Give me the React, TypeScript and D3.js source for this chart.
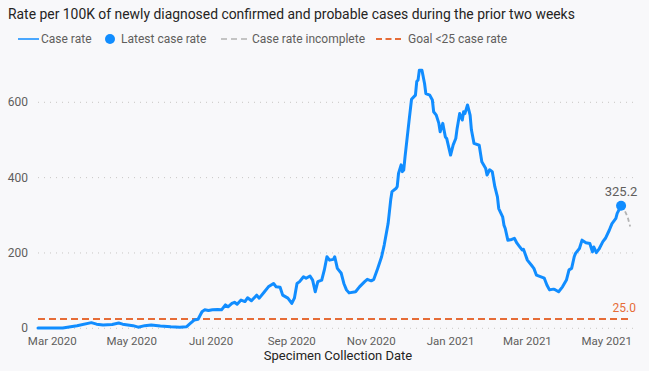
import React, { useEffect } from 'react';
import * as d3 from 'd3';

// daily case rate
const dates = [
  '2020-02-19', '2020-03-09', '2020-03-20', '2020-03-31', '2020-04-04', '2020-04-09', '2020-04-16', '2020-04-21',
  '2020-04-24', '2020-05-02', '2020-05-06', '2020-05-11', '2020-05-16', '2020-05-23', '2020-05-31', '2020-06-07',
  '2020-06-12', '2020-06-15', '2020-06-18', '2020-06-21', '2020-06-24', '2020-06-26', '2020-06-29', '2020-07-02',
  '2020-07-06', '2020-07-09', '2020-07-12', '2020-07-14', '2020-07-17', '2020-07-19', '2020-07-21', '2020-07-24',
  '2020-07-27', '2020-07-29', '2020-08-01', '2020-08-05', '2020-08-07', '2020-08-11', '2020-08-14', '2020-08-18',
  '2020-08-20', '2020-08-23', '2020-08-25', '2020-08-29', '2020-09-01', '2020-09-03', '2020-09-05', '2020-09-07',
  '2020-09-10', '2020-09-12', '2020-09-15', '2020-09-17', '2020-09-19', '2020-09-21', '2020-09-24', '2020-09-26',
  '2020-09-28', '2020-09-30', '2020-10-03', '2020-10-04', '2020-10-06', '2020-10-09', '2020-10-11', '2020-10-13',
  '2020-10-15', '2020-10-20', '2020-10-23', '2020-10-27', '2020-10-29', '2020-11-01', '2020-11-03', '2020-11-06',
  '2020-11-09', '2020-11-11', '2020-11-14', '2020-11-16', '2020-11-17', '2020-11-20', '2020-11-21', '2020-11-22',
  '2020-11-24', '2020-11-25', '2020-11-26', '2020-11-27', '2020-11-30', '2020-12-02', '2020-12-05', '2020-12-06',
  '2020-12-07', '2020-12-08', '2020-12-10', '2020-12-12', '2020-12-13', '2020-12-16', '2020-12-18', '2020-12-19',
  '2020-12-21', '2020-12-23', '2020-12-24', '2020-12-26', '2020-12-28', '2020-12-29', '2021-01-01', '2021-01-03',
  '2021-01-05', '2021-01-06', '2021-01-08', '2021-01-10', '2021-01-11', '2021-01-12', '2021-01-14', '2021-01-16',
  '2021-01-17', '2021-01-19', '2021-01-23', '2021-01-25', '2021-01-28', '2021-01-29', '2021-01-31', '2021-02-02',
  '2021-02-04', '2021-02-06', '2021-02-07', '2021-02-10', '2021-02-11', '2021-02-12', '2021-02-14', '2021-02-17',
  '2021-02-19', '2021-02-21', '2021-02-23', '2021-02-25', '2021-02-26', '2021-03-01', '2021-03-04', '2021-03-06',
  '2021-03-08', '2021-03-11', '2021-03-14', '2021-03-16', '2021-03-18', '2021-03-21', '2021-03-22', '2021-03-25',
  '2021-03-28', '2021-03-31', '2021-04-02', '2021-04-04', '2021-04-06', '2021-04-07', '2021-04-10', '2021-04-12',
  '2021-04-15', '2021-04-18', '2021-04-20', '2021-04-21', '2021-04-23', '2021-04-25', '2021-04-28', '2021-04-30',
  '2021-05-03', '2021-05-05', '2021-05-08', '2021-05-09', '2021-05-12',
];
const caseRate = [
  1, 1, 7, 15, 11, 9, 10, 14,
  11, 7, 3, 7, 9, 6, 4, 3,
  4, 13, 22, 24, 44, 49, 47, 49,
  50, 49, 62, 57, 66, 69, 64, 75,
  71, 81, 73, 88, 80, 97, 110, 119,
  110, 109, 88, 80, 66, 80, 119, 124,
  137, 133, 139, 128, 97, 124, 128, 155,
  190, 181, 183, 190, 159, 146, 119, 102,
  94, 97, 110, 124, 130, 126, 130, 159,
  190, 221, 278, 341, 363, 371, 376, 411,
  434, 416, 420, 455, 548, 608, 619, 655,
  659, 685, 685, 650, 623, 619, 606, 575,
  566, 544, 522, 544, 508, 504, 460, 487,
  504, 530, 570, 553, 575, 570, 593, 566,
  527, 491, 486, 442, 424, 407, 421, 416,
  376, 349, 318, 296, 274, 265, 234, 236,
  239, 226, 217, 208, 210, 181, 168, 159,
  141, 137, 133, 115, 102, 104, 103, 97,
  110, 128, 155, 159, 190, 199, 212, 234,
  227, 225, 203, 216, 201, 210, 230, 239,
  261, 278, 292, 305, 325.2,
];

// last days, not yet complete
const incompleteDates = ['2021-05-12', '2021-05-14', '2021-05-17', '2021-05-19'];
const incompleteRate = [325.2, 318, 296, 270];

const goalRate = 25;
const yTicks = [0, 200, 400, 600];
const legendLabels = ['Case rate', 'Latest case rate', 'Case rate incomplete', 'Goal <25 case rate'];

const W = 649;
const H = 371;
const FONT = 'Roboto, "Noto Sans", sans-serif';
const BLUE = '#118DFF';
const ORANGE = '#E66C37';
const GREY = '#605E5C';

const parse = d3.timeParse('%Y-%m-%d');

export default function App() {
  useEffect(() => {
    document.body.style.margin = '0';
  }, []);

  const x = d3.scaleTime()
    .domain([parse('2020-02-19') as Date, parse('2021-05-25') as Date])
    .range([38, 638]);
  const y = d3.scaleLinear().domain([0, 720]).range([328.3, 57.1]);

  const main = dates.map((d, i) => ({ date: parse(d) as Date, value: caseRate[i] }));
  const incomplete = incompleteDates.map((d, i) => ({ date: parse(d) as Date, value: incompleteRate[i] }));
  const last = main[main.length - 1];

  const line = d3.line<{ date: Date; value: number }>()
    .x(d => x(d.date))
    .y(d => y(d.value));

  const xTicks = x.ticks(d3.timeMonth.every(2) as d3.TimeInterval);
  const fmt = d3.timeFormat('%b %Y');
  const goalEnd = x(incomplete[incomplete.length - 1].date);
  const [x0, x1] = x.range();

  return (
    <svg width={W} height={H} style={{ display: 'block', background: '#F8F8FA' }} fontFamily={FONT}>
      <text x={8} y={19} fontSize={13.9} fill="#252423">
        Rate per 100K of newly diagnosed confirmed and probable cases during the prior two weeks
      </text>

      {/* legend */}
      <g fontSize={12} fill={GREY}>
        <line x1={18} x2={39} y1={39} y2={39} stroke={BLUE} strokeWidth={1.5} />
        <text x={41} y={43}>{legendLabels[0]}</text>
        <circle cx={110} cy={39} r={5} fill={BLUE} />
        <text x={121} y={43}>{legendLabels[1]}</text>
        <line x1={221} x2={247} y1={39} y2={39} stroke="#B3B3B3" strokeWidth={1.5} strokeDasharray="6 4" />
        <text x={252} y={43}>{legendLabels[2]}</text>
        <line x1={376} x2={401} y1={39} y2={39} stroke={ORANGE} strokeWidth={2} strokeDasharray="6 3.5" />
        <text x={408} y={43}>{legendLabels[3]}</text>
      </g>

      {/* gridlines and y axis */}
      {yTicks.map(t => (
        <g key={t}>
          <line x1={x0} x2={x1} y1={y(t)} y2={y(t)} stroke="#C8C6C4" strokeWidth={1} strokeDasharray="1 5" />
          <text x={28} y={y(t) + 4} textAnchor="end" fontSize={12} fill={GREY}>{t}</text>
        </g>
      ))}

      {/* x axis */}
      {xTicks.map(t => (
        <text key={t.getTime()} x={x(t)} y={345} textAnchor="middle" fontSize={11.5} fill={GREY}>{fmt(t)}</text>
      ))}
      <text x={338} y={360} textAnchor="middle" fontSize={13} fill="#252423">Specimen Collection Date</text>

      {/* goal line */}
      <line x1={x0} x2={goalEnd} y1={y(goalRate)} y2={y(goalRate)} stroke={ORANGE} strokeWidth={2} strokeDasharray="7 4" />
      <text x={636} y={y(goalRate) - 7} textAnchor="end" fontSize={12} fill={ORANGE}>{goalRate.toFixed(1)}</text>

      {/* series */}
      <path d={line(incomplete) || ''} fill="none" stroke="#B3B3B3" strokeWidth={1.8} strokeDasharray="4 3" />
      <path d={line(main) || ''} fill="none" stroke={BLUE} strokeWidth={3} strokeLinejoin="round" strokeLinecap="round" />
      <circle cx={x(last.date)} cy={y(last.value)} r={5} fill={BLUE} />
      <text x={x(last.date)} y={y(last.value) - 10} textAnchor="middle" fontSize={13} fill={GREY}>{last.value.toFixed(1)}</text>
    </svg>
  );
}
